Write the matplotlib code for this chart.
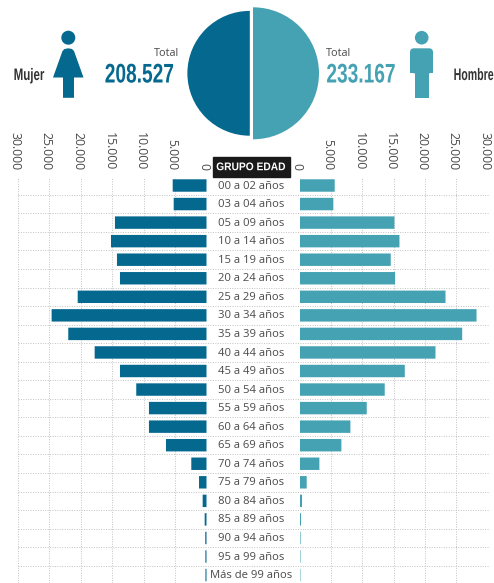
import numpy as np
import matplotlib.pyplot as plt
import matplotlib.patheffects as pe
from matplotlib.patches import Wedge, Circle, Polygon, FancyBboxPatch, Rectangle
from matplotlib.transforms import Affine2D, ScaledTranslation

age_groups = ["00 a 02 años", "03 a 04 años", "05 a 09 años", "10 a 14 años", "15 a 19 años",
              "20 a 24 años", "25 a 29 años", "30 a 34 años", "35 a 39 años", "40 a 44 años",
              "45 a 49 años", "50 a 54 años", "55 a 59 años", "60 a 64 años", "65 a 69 años",
              "70 a 74 años", "75 a 79 años", "80 a 84 años", "85 a 89 años", "90 a 94 años",
              "95 a 99 años", "Más de 99 años"]
mujer = [5380, 5220, 14570, 15200, 14250, 13770, 20500, 24650, 22000, 17800, 13770,
         11180, 9160, 9160, 6450, 2420, 1190, 610, 290, 200, 180, 170]
hombre = [5620, 5400, 15150, 15950, 14560, 15250, 23300, 28250, 25960, 21700, 16800,
          13600, 10730, 8120, 6680, 3170, 1150, 400, 240, 170, 160, 150]
total_mujer = 208527
total_hombre = 233167
ticks = [0, 5000, 10000, 15000, 20000, 25000, 30000]
tick_labels = ["0", "5.000", "10.000", "15.000", "20.000", "25.000", "30.000"]

DARK = "#05688F"
TEAL = "#44A2B3"
GRID = "#c2c2c2"
TEXT = "#4a4a4a"
W, H = 494, 583
HEAVY = ["Liberation Sans", "DejaVu Sans"]
BODY = ["Open Sans", "DejaVu Sans"]
ROW0, ROW_H = 185.5, 18.55

fig = plt.figure(figsize=(W / 100, H / 100), dpi=100, facecolor="white")

# pixel-space layer for the header, icons and row separators
bg = fig.add_axes([0, 0, 1, 1])
bg.set_xlim(0, W)
bg.set_ylim(H, 0)
bg.axis("off")


class Squeeze(pe.AbstractPathEffect):
    # no condensed face available, so narrow the glyphs around an anchor x
    def __init__(self, cx, sx):
        super().__init__()
        self.cx, self.sx = cx, sx

    def draw_path(self, renderer, gc, tpath, affine, rgbFace=None):
        xd = bg.transData.transform((self.cx, 0))[0]
        squeeze = Affine2D().translate(-xd, 0).scale(self.sx, 1).translate(xd, 0)
        renderer.draw_path(gc, tpath, affine + squeeze, rgbFace)


def narrow_text(cx, cy, s, size, sx, color, zorder=3, ha="center"):
    t = bg.text(cx, cy, s, ha=ha, va="center", fontsize=size, color=color,
                fontweight="bold", family=HEAVY, zorder=zorder)
    t.set_path_effects([Squeeze(cx, sx)])
    return t


def bar_axes(x0, x1, values, color, invert):
    top, bottom = 177, H
    ax = fig.add_axes([x0 / W, 1 - bottom / H, (x1 - x0) / W, (bottom - top) / H])
    ax.patch.set_alpha(0)
    y = np.arange(len(age_groups))
    bars = ax.barh(y, values, height=0.67, color=color, zorder=3)
    # keep the hairline bars of the oldest groups from snapping away
    for b in bars:
        b.set_snap(False)
    ax.set_xlim(30000, 0) if invert else ax.set_xlim(0, 30000)
    ax.set_ylim((H - ROW0) / ROW_H, -(ROW0 - top) / ROW_H)
    ax.xaxis.tick_top()
    ax.set_xticks(ticks)
    ax.set_xticklabels(tick_labels, rotation=270, fontsize=8.8, color=TEXT, family=BODY)
    ax.tick_params(axis="x", length=0, pad=5)
    # rotated labels sit off-centre because of the descent box
    shift = ScaledTranslation(-2.2 / 72, 0, fig.dpi_scale_trans)
    for lab in ax.get_xticklabels():
        lab.set_transform(lab.get_transform() + shift)
    ax.set_yticks([])
    ax.grid(axis="x", color=GRID, linestyle=(0, (1, 1.5)), linewidth=0.7, zorder=0)
    ax.get_xgridlines()[0].set_visible(False)
    for s in ax.spines.values():
        s.set_visible(False)
    return ax


ax_m = bar_axes(18, 206.5, mujer, DARK, True)
ax_h = bar_axes(299.5, 487.5, hombre, TEAL, False)

# horizontal separators run across the whole width, behind the labels
for i in range(len(age_groups)):
    yy = ROW0 + ROW_H * (i + 0.5)
    bg.plot([18, 488], [yy, yy], color=GRID, linestyle=(0, (1, 1.5)), linewidth=0.7, zorder=1)

for i, name in enumerate(age_groups):
    bg.text(251, ROW0 + 0.6 + ROW_H * i, name, ha="center", va="center", fontsize=8.1,
            color=TEXT, family=BODY, zorder=4)

bg.add_patch(Rectangle((212.5, 157), 77, 20, color="#1a1a1a", zorder=5))
narrow_text(251, 167.2, "GRUPO EDAD", 8, 0.92, "white", zorder=6)

# half discs, area scaled to each total
r_h = 66.0
r_m = r_h * np.sqrt(total_mujer / total_hombre)
bg.add_patch(Wedge((249.8, 73.3), r_m, 90, 270, color=DARK, lw=0))
bg.add_patch(Wedge((253, 73.3), r_h, -90, 90, color=TEAL, lw=0))

bg.text(179, 53, "Total", ha="right", va="center", fontsize=7.8, color=TEXT, family=BODY)
bg.text(326, 53, "Total", ha="left", va="center", fontsize=7.8, color=TEXT, family=BODY)
narrow_text(139.3, 75.5, f"{total_mujer:,}".replace(",", "."), 19.4, 0.71, DARK)
narrow_text(361, 75.5, f"{total_hombre:,}".replace(",", "."), 19.4, 0.71, TEAL)
narrow_text(29, 75.5, "Mujer", 12, 0.69, "#333333")
narrow_text(493.5, 75.5, "Hombre", 12, 0.635, "#333333", ha="right")

# female pictogram
bg.add_patch(Circle((68.3, 37.7), 7, color=DARK, lw=0))
bg.add_patch(Polygon([(62.5, 51), (64.5, 49), (68.3, 48.3), (72, 49), (74, 51), (83.5, 77.5), (74, 77.5),
                      (74, 97.8), (63, 97.8), (63, 77.5), (53, 77.5)], closed=True, color=DARK, lw=0))

# male pictogram
bg.add_patch(Circle((421.7, 37.7), 6.8, color=TEAL, lw=0))
bg.add_patch(FancyBboxPatch((410, 48.3), 23, 25, boxstyle="round,pad=0,rounding_size=4", color=TEAL, lw=0))
bg.add_patch(Rectangle((414.8, 62), 14, 35.8, color=TEAL, lw=0))
bg.add_patch(Rectangle((410, 62), 23, 11.3, color=TEAL, lw=0))

fig.savefig("out.png", dpi=100)
